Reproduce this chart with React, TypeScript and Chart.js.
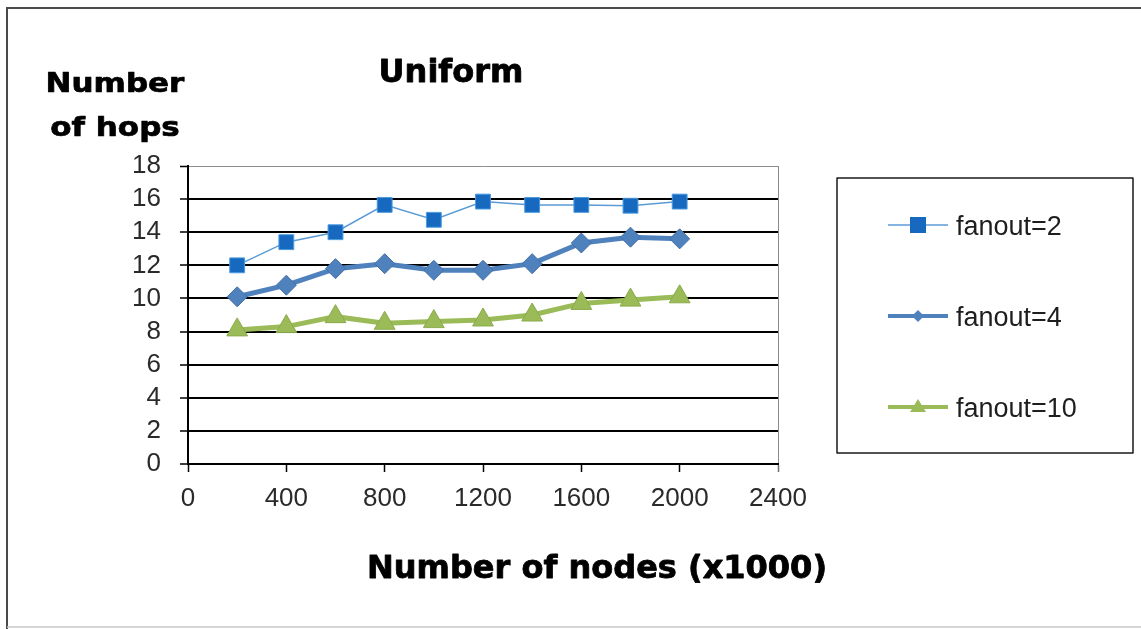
import React, { useEffect, useRef } from "react";
import { Chart, registerables } from "chart.js";

Chart.register(...registerables);

// ---- data ----
const nodeCounts = [200, 400, 600, 800, 1000, 1200, 1400, 1600, 1800, 2000];
const hopsFanout2 = [12.0, 13.4, 14.0, 15.65, 14.75, 15.85, 15.65, 15.65, 15.6, 15.85];
const hopsFanout4 = [10.1, 10.8, 11.8, 12.1, 11.7, 11.7, 12.1, 13.35, 13.7, 13.6];
const hopsFanout10 = [8.1, 8.3, 8.9, 8.5, 8.6, 8.7, 9.0, 9.7, 9.9, 10.1];
const seriesNames = ["fanout=2", "fanout=4", "fanout=10"];
const xTickValues = [0, 400, 800, 1200, 1600, 2000, 2400];
const yTickValues = [0, 2, 4, 6, 8, 10, 12, 14, 16, 18];
const chartTitle = "Uniform";
const yAxisTitle = ["Number", "of hops"];
const xAxisTitle = "Number of nodes (x1000)";

const W = 1141;
const H = 629;

const toPoints = (ys: number[]) => nodeCounts.map((x, i) => ({ x, y: ys[i] }));

export default function App() {
  const ref = useRef<HTMLCanvasElement | null>(null);

  useEffect(() => {
    const canvas = ref.current;
    if (!canvas) return;

    const heavyText = (ctx: CanvasRenderingContext2D, t: string, x: number, y: number) => {
      ctx.fillText(t, x, y);
      ctx.strokeText(t, x, y);
    };

    const decorations = {
      id: "decorations",
      beforeDraw(chart: any) {
        const ctx = chart.ctx as CanvasRenderingContext2D;
        ctx.save();
        ctx.fillStyle = "#ffffff";
        ctx.fillRect(0, 0, W, H);
        // outer frame
        ctx.lineWidth = 2;
        ctx.strokeStyle = "#4a4a4a";
        ctx.beginPath();
        ctx.moveTo(7, H + 5);
        ctx.lineTo(7, 8);
        ctx.lineTo(W + 5, 8);
        ctx.stroke();
        ctx.strokeStyle = "#c8c8c8";
        ctx.lineWidth = 1.5;
        ctx.beginPath();
        ctx.moveTo(7, 627);
        ctx.lineTo(W + 5, 627);
        ctx.stroke();
        ctx.restore();
      },
      afterDraw(chart: any) {
        const ctx = chart.ctx as CanvasRenderingContext2D;
        const area = chart.chartArea;
        ctx.save();
        ctx.fillStyle = "#000";
        ctx.strokeStyle = "#000";
        ctx.lineWidth = 0.8;
        ctx.lineJoin = "round";
        // chart title
        ctx.font = "bold 32px 'DejaVu Sans'";
        ctx.textAlign = "center";
        ctx.textBaseline = "alphabetic";
        heavyText(ctx, chartTitle, 451, 82);
        // x axis title
        heavyText(ctx, xAxisTitle, (area.left + area.right) / 2 + 114, 578);
        // y axis title (slightly squashed)
        ctx.font = "bold 31px 'DejaVu Sans'";
        const yBase = [92, 136];
        yAxisTitle.forEach((t, i) => {
          ctx.save();
          ctx.translate(115, yBase[i]);
          ctx.scale(1, 0.86);
          heavyText(ctx, t, 0, 0);
          ctx.restore();
        });

        // legend box
        ctx.strokeStyle = "#1a1a1a";
        ctx.lineWidth = 1.5;
        ctx.strokeRect(837, 178, 296, 275);
        const rowY = [225, 316, 407];
        chart.data.datasets.forEach((ds: any, i: number) => {
          const y = rowY[i];
          ctx.strokeStyle = ds.borderColor;
          ctx.lineWidth = i === 0 ? 1.5 : 4;
          ctx.beginPath();
          ctx.moveTo(888, y);
          ctx.lineTo(948, y);
          ctx.stroke();
          ctx.fillStyle = ds.pointBackgroundColor;
          const cx = 918;
          ctx.beginPath();
          if (ds.pointStyle === "rect") {
            ctx.rect(cx - 8, y - 8, 16, 16);
          } else if (ds.pointStyle === "rectRot") {
            ctx.moveTo(cx - 6, y);
            ctx.lineTo(cx, y - 6);
            ctx.lineTo(cx + 6, y);
            ctx.lineTo(cx, y + 6);
            ctx.closePath();
          } else {
            ctx.moveTo(cx, y - 8);
            ctx.lineTo(cx + 8, y + 5);
            ctx.lineTo(cx - 8, y + 5);
            ctx.closePath();
          }
          ctx.fill();
          ctx.fillStyle = "#1e1e1e";
          ctx.font = "27px 'Liberation Sans'";
          ctx.textAlign = "left";
          ctx.textBaseline = "alphabetic";
          ctx.fillText(ds.label, 956, y + 10);
        });
        ctx.restore();
      },
    };

    const chart = new Chart(canvas, {
      type: "line",
      data: {
        datasets: [
          {
            label: seriesNames[0],
            data: toPoints(hopsFanout2),
            borderColor: "#5b9bd5",
            borderWidth: 1.5,
            pointStyle: "rect",
            pointRadius: 10.5,
            pointBackgroundColor: "#1769c0",
            pointBorderColor: "#4a9be0",
            pointBorderWidth: 1,
            tension: 0,
          },
          {
            label: seriesNames[1],
            data: toPoints(hopsFanout4),
            borderColor: "#4f81bd",
            borderWidth: 5,
            pointStyle: "rectRot",
            pointRadius: 10,
            pointBackgroundColor: "#4f81bd",
            pointBorderColor: "#436fa6",
            pointBorderWidth: 1,
            tension: 0,
          },
          {
            label: seriesNames[2],
            data: toPoints(hopsFanout10),
            borderColor: "#9bbb59",
            borderWidth: 5,
            pointStyle: "triangle",
            pointRadius: 12,
            pointBackgroundColor: "#9bbb59",
            pointBorderColor: "#8aab4a",
            pointBorderWidth: 1,
            tension: 0,
          },
        ] as any,
      },
      options: {
        responsive: false,
        animation: false,
        events: [],
        layout: { padding: { left: 0, top: 166, right: 363, bottom: 0 } },
        plugins: {
          legend: { display: false },
          title: { display: false },
          tooltip: { enabled: false },
        },
        scales: {
          x: {
            type: "linear",
            min: xTickValues[0],
            max: xTickValues[xTickValues.length - 1],
            afterBuildTicks: (scale: any) => {
              scale.ticks = xTickValues.map((v) => ({ value: v }));
            },
            afterFit: (scale: any) => {
              scale.height = 165;
            },
            ticks: {
              autoSkip: false,
              maxRotation: 0,
              padding: 11,
              color: "#2a2a2a",
              font: { family: "'Liberation Sans'", size: 26 },
              callback: (v: any) => String(v),
            },
            grid: {
              drawOnChartArea: true,
              color: (c: any) => (c.tick && c.tick.value === 2400 ? "#8c8c8c" : "rgba(0,0,0,0)"),
              lineWidth: 1,
              tickLength: 8,
              tickColor: (c: any) => (c.tick && c.tick.value === 2400 ? "#6e6e6e" : "#000"),
              tickWidth: 1.5,
            },
            border: { display: true, color: "#000", width: 2 },
          },
          y: {
            type: "linear",
            min: yTickValues[0],
            max: yTickValues[yTickValues.length - 1],
            afterBuildTicks: (scale: any) => {
              scale.ticks = yTickValues.map((v) => ({ value: v }));
            },
            afterFit: (scale: any) => {
              scale.width = 188;
            },
            ticks: {
              autoSkip: false,
              padding: 19,
              color: "#2a2a2a",
              font: { family: "'Liberation Sans'", size: 26 },
              callback: (v: any) => String(v),
            },
            grid: {
              color: (c: any) => (c.tick && c.tick.value === 18 ? "#8c8c8c" : "#000"),
              lineWidth: (c: any) => (c.tick && c.tick.value === 18 ? 1 : 2),
              tickLength: 8,
              tickColor: "#000",
              tickWidth: 1.5,
            },
            border: { display: true, color: "#000", width: 2 },
          },
        },
      } as any,
      plugins: [decorations],
    });

    return () => {
      chart.destroy();
    };
  }, []);

  return (
    <div style={{ position: "fixed", left: 0, top: 0, width: W, height: H, background: "#fff" }}>
      <canvas ref={ref} width={W} height={H} style={{ display: "block", width: W, height: H }} />
    </div>
  );
}
